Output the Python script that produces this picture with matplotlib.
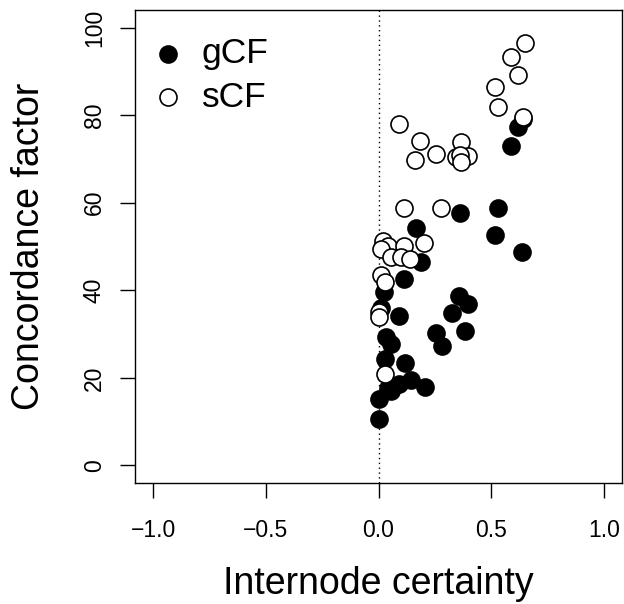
import matplotlib
matplotlib.use("Agg")
import matplotlib.pyplot as plt

plt.rcParams['font.family'] = ['Liberation Sans', 'DejaVu Sans']

# Internode certainty (x) and concordance factors (y)
ic_g = [0.589, 0.619, 0.641, 0.638, 0.363, 0.530, 0.515, 0.167, 0.189, 0.115,
        0.023, 0.357, 0.397, 0.326, 0.093, 0.382, 0.254, 0.281, 0.034, 0.056,
        0.027, 0.118, 0.145, 0.093, 0.207, 0.056, 0.041, 0.004, 0.004, 0.010]
gcf = [73.0, 77.3, 79.1, 48.8, 57.7, 58.7, 52.6, 54.3, 46.4, 42.6,
       39.6, 38.8, 36.8, 34.8, 34.2, 30.8, 30.2, 27.2, 29.4, 27.8,
       24.3, 23.5, 19.6, 18.5, 18.0, 17.0, 17.8, 15.1, 10.5, 36.0]

ic_s = [0.648, 0.589, 0.619, 0.515, 0.530, 0.641, 0.093, 0.182, 0.160, 0.253,
        0.365, 0.342, 0.397, 0.362, 0.365, 0.115, 0.278, 0.019, 0.044, 0.009,
        0.115, 0.201, 0.056, 0.101, 0.138, 0.009, 0.027, 0.004, 0.004, 0.027]
scf = [96.4, 93.3, 89.1, 86.5, 81.8, 79.6, 78.0, 74.0, 69.8, 71.2,
       73.8, 70.4, 70.6, 70.9, 69.3, 58.9, 58.9, 51.3, 50.1, 49.5,
       50.1, 50.9, 47.6, 47.6, 47.2, 43.4, 41.9, 35.0, 34.0, 20.9]

xticks = [-1.0, -0.5, 0.0, 0.5, 1.0]
yticks = [0, 20, 40, 60, 80, 100]

W, H = 624, 604
fig = plt.figure(figsize=(W / 100, H / 100), dpi=100)
ax = fig.add_axes([135 / W, 1 - 483 / H, (622 - 135) / W, (483 - 10) / H])

ax.axvline(0, color='black', linestyle=(0, (1, 2.5)), linewidth=1.0, zorder=1)
ax.scatter(ic_g, gcf, s=150, facecolor='black', edgecolor='black', linewidths=1.2, zorder=2, label='gCF')
ax.scatter(ic_s, scf, s=150, facecolor='white', edgecolor='black', linewidths=1.2, zorder=3, label='sCF')

ax.set_xlim(-1.08, 1.08)
ax.set_ylim(-4.0, 104.0)
ax.set_xticks(xticks)
ax.set_xticklabels([f"{v:.1f}".replace('-', '\u2212') for v in xticks])
ax.set_yticks(yticks)
ax.set_yticklabels([str(v) for v in yticks], rotation=90, va='center')
ax.tick_params(axis='both', length=11, width=1.0, labelsize=16.5, direction='out')
ax.tick_params(axis='x', pad=15)
ax.tick_params(axis='y', pad=10)
for sp in ax.spines.values():
    sp.set_linewidth(1.0)

ax.set_xlabel('Internode certainty', fontsize=27, labelpad=17)
ax.set_ylabel('Concordance factor', fontsize=27, labelpad=26)

leg_fs = 25.5
ax.legend(loc='upper left', frameon=False, fontsize=leg_fs, markerscale=1.0,
          bbox_to_anchor=((150 - 135) / 487, (483 - 37) / 473),
          borderpad=0, borderaxespad=0, handletextpad=0.46,
          labelspacing=0.30, handlelength=1.0)

fig.savefig('out.png', dpi=100)
